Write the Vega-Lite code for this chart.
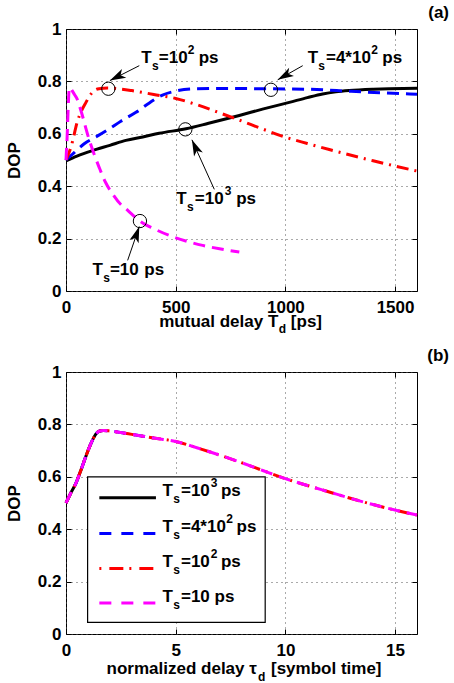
{
"$schema": "https://vega.github.io/schema/vega-lite/v6.json",
"background": "white",
"padding": {"left": 5, "top": 3, "right": 0, "bottom": 0},
"spacing": 10,
"config": {
  "font": "Liberation Sans",
  "view": {"stroke": "black", "strokeWidth": 1},
  "axis": {"domain": false, "tickColor": "black", "tickSize": -5, "tickWidth": 1, "gridColor": "#555", "gridDash": [1, 4], "gridWidth": 1, "labelFont": "Liberation Sans", "labelFontSize": 17, "labelFontWeight": "bold", "labelColor": "black", "labelFlush": false, "titleFont": "Liberation Sans", "titleFontSize": 17, "titleFontWeight": "bold", "titleColor": "black"},
  "axisX": {"labelPadding": 13.5},
  "axisY": {"labelPadding": 10, "titlePadding": 13.4},
  "title": {"font": "Liberation Sans", "fontSize": 17, "fontWeight": "bold", "anchor": "end", "frame": "group", "dx": 32, "offset": -2, "color": "black"},
  "text": {"font": "Liberation Sans", "fontWeight": "bold", "color": "black", "align": "left", "baseline": "alphabetic"}
},
"datasets": {
  "la": [
    {"s":"k","x":0,"y":0.497},{"s":"k","x":50,"y":0.515},{"s":"k","x":121,"y":0.536},{"s":"k","x":200,"y":0.556},{"s":"k","x":273,"y":0.575},{"s":"k","x":350,"y":0.588},{"s":"k","x":425,"y":0.602},{"s":"k","x":547,"y":0.619},{"s":"k","x":650,"y":0.64},{"s":"k","x":790,"y":0.67},{"s":"k","x":900,"y":0.695},{"s":"k","x":1018,"y":0.72},{"s":"k","x":1100,"y":0.738},{"s":"k","x":1170,"y":0.752},{"s":"k","x":1230,"y":0.76},{"s":"k","x":1291,"y":0.765},{"s":"k","x":1400,"y":0.77},{"s":"k","x":1473,"y":0.772},{"s":"k","x":1600,"y":0.774},
    {"s":"b","x":0,"y":0.5},{"s":"b","x":40,"y":0.53},{"s":"b","x":83,"y":0.562},{"s":"b","x":140,"y":0.59},{"s":"b","x":197,"y":0.619},{"s":"b","x":250,"y":0.648},{"s":"b","x":319,"y":0.682},{"s":"b","x":380,"y":0.718},{"s":"b","x":440,"y":0.748},{"s":"b","x":500,"y":0.763},{"s":"b","x":577,"y":0.771},{"s":"b","x":700,"y":0.773},{"s":"b","x":900,"y":0.772},{"s":"b","x":1100,"y":0.77},{"s":"b","x":1300,"y":0.762},{"s":"b","x":1450,"y":0.756},{"s":"b","x":1600,"y":0.751},
    {"s":"r","x":0,"y":0.5},{"s":"r","x":23,"y":0.55},{"s":"r","x":53,"y":0.65},{"s":"r","x":91,"y":0.72},{"s":"r","x":121,"y":0.759},{"s":"r","x":150,"y":0.772},{"s":"r","x":190,"y":0.775},{"s":"r","x":250,"y":0.771},{"s":"r","x":300,"y":0.765},{"s":"r","x":400,"y":0.75},{"s":"r","x":500,"y":0.735},{"s":"r","x":600,"y":0.71},{"s":"r","x":700,"y":0.68},{"s":"r","x":800,"y":0.649},{"s":"r","x":900,"y":0.617},{"s":"r","x":1000,"y":0.587},{"s":"r","x":1100,"y":0.563},{"s":"r","x":1200,"y":0.54},{"s":"r","x":1300,"y":0.518},{"s":"r","x":1400,"y":0.497},{"s":"r","x":1500,"y":0.477},{"s":"r","x":1600,"y":0.458},
    {"s":"m","x":0,"y":0.5},{"s":"m","x":2,"y":0.535},{"s":"m","x":4.6,"y":0.577},{"s":"m","x":7,"y":0.63},{"s":"m","x":9,"y":0.679},{"s":"m","x":11,"y":0.72},{"s":"m","x":12.2,"y":0.742},{"s":"m","x":13.5,"y":0.762},{"s":"m","x":15.2,"y":0.774},{"s":"m","x":17,"y":0.777},{"s":"m","x":20,"y":0.775},{"s":"m","x":25,"y":0.769},{"s":"m","x":30,"y":0.762},{"s":"m","x":40,"y":0.748},{"s":"m","x":50,"y":0.734},{"s":"m","x":60,"y":0.71},{"s":"m","x":70,"y":0.683},{"s":"m","x":80,"y":0.654},{"s":"m","x":90,"y":0.623},{"s":"m","x":100,"y":0.593},{"s":"m","x":125,"y":0.53},{"s":"m","x":152,"y":0.47},{"s":"m","x":180,"y":0.415},{"s":"m","x":212,"y":0.371},{"s":"m","x":250,"y":0.33},{"s":"m","x":273,"y":0.314},{"s":"m","x":300,"y":0.293},{"s":"m","x":337,"y":0.267},{"s":"m","x":400,"y":0.238},{"s":"m","x":471,"y":0.212},{"s":"m","x":550,"y":0.19},{"s":"m","x":623,"y":0.174},{"s":"m","x":700,"y":0.161},{"s":"m","x":790,"y":0.149}
  ],
  "lb": [
    {"s":"k","x":0,"y":0.5},{"s":"k","x":0.2,"y":0.535},{"s":"k","x":0.46,"y":0.577},{"s":"k","x":0.7,"y":0.63},{"s":"k","x":0.91,"y":0.679},{"s":"k","x":1.1,"y":0.72},{"s":"k","x":1.22,"y":0.742},{"s":"k","x":1.35,"y":0.762},{"s":"k","x":1.52,"y":0.774},{"s":"k","x":1.6,"y":0.776},
    {"s":"b","x":0,"y":0.5},{"s":"b","x":0.2,"y":0.535},{"s":"b","x":0.46,"y":0.577},{"s":"b","x":0.7,"y":0.63},{"s":"b","x":0.91,"y":0.679},{"s":"b","x":1.1,"y":0.72},{"s":"b","x":1.22,"y":0.742},{"s":"b","x":1.35,"y":0.762},{"s":"b","x":1.52,"y":0.774},{"s":"b","x":1.7,"y":0.777},{"s":"b","x":2,"y":0.775},{"s":"b","x":2.5,"y":0.769},{"s":"b","x":3,"y":0.762},{"s":"b","x":3.5,"y":0.755},{"s":"b","x":4,"y":0.748},
    {"s":"r","x":0,"y":0.5},{"s":"r","x":0.2,"y":0.535},{"s":"r","x":0.46,"y":0.577},{"s":"r","x":0.7,"y":0.63},{"s":"r","x":0.91,"y":0.679},{"s":"r","x":1.1,"y":0.72},{"s":"r","x":1.22,"y":0.742},{"s":"r","x":1.35,"y":0.762},{"s":"r","x":1.52,"y":0.774},{"s":"r","x":1.7,"y":0.777},{"s":"r","x":2,"y":0.775},{"s":"r","x":2.5,"y":0.769},{"s":"r","x":3,"y":0.762},{"s":"r","x":3.5,"y":0.755},{"s":"r","x":4,"y":0.748},{"s":"r","x":5,"y":0.735},{"s":"r","x":6,"y":0.71},{"s":"r","x":7,"y":0.683},{"s":"r","x":8,"y":0.654},{"s":"r","x":9,"y":0.623},{"s":"r","x":10,"y":0.593},{"s":"r","x":11,"y":0.567},{"s":"r","x":12,"y":0.542},{"s":"r","x":13,"y":0.517},{"s":"r","x":14,"y":0.494},{"s":"r","x":15,"y":0.473},{"s":"r","x":16,"y":0.454},
    {"s":"m","x":0,"y":0.5},{"s":"m","x":0.2,"y":0.535},{"s":"m","x":0.46,"y":0.577},{"s":"m","x":0.7,"y":0.63},{"s":"m","x":0.91,"y":0.679},{"s":"m","x":1.1,"y":0.72},{"s":"m","x":1.22,"y":0.742},{"s":"m","x":1.35,"y":0.762},{"s":"m","x":1.52,"y":0.774},{"s":"m","x":1.7,"y":0.777},{"s":"m","x":2,"y":0.775},{"s":"m","x":2.5,"y":0.769},{"s":"m","x":3,"y":0.762},{"s":"m","x":3.5,"y":0.755},{"s":"m","x":4,"y":0.748},{"s":"m","x":5,"y":0.735},{"s":"m","x":6,"y":0.71},{"s":"m","x":7,"y":0.683},{"s":"m","x":8,"y":0.654},{"s":"m","x":9,"y":0.623},{"s":"m","x":10,"y":0.593},{"s":"m","x":11,"y":0.567},{"s":"m","x":12,"y":0.542},{"s":"m","x":13,"y":0.517},{"s":"m","x":14,"y":0.494},{"s":"m","x":15,"y":0.473},{"s":"m","x":16,"y":0.454}
  ],
  "ca": [{"x":193,"y":0.772},{"x":934,"y":0.768},{"x":544,"y":0.617},{"x":337,"y":0.267}],
  "aa": [{"id":1,"x":334,"y":0.86,"x2":200,"y2":0.803},{"id":2,"x":1079,"y":0.86,"x2":965,"y2":0.806},{"id":3,"x":676,"y":0.388,"x2":574,"y2":0.577},{"id":4,"x":281,"y":0.117,"x2":334,"y2":0.246}],
  "tma": [
    {"t":"T","x":343,"y":0.872},{"t":"=10","x":423,"y":0.872},{"t":"ps","x":605,"y":0.872},
    {"t":"T","x":1102,"y":0.872},{"t":"=4*10","x":1185,"y":0.872},{"t":"ps","x":1442,"y":0.872},
    {"t":"T","x":503,"y":0.332},{"t":"=10","x":587,"y":0.332},{"t":"ps","x":776,"y":0.332},
    {"t":"T","x":121,"y":0.06},{"t":"=10","x":200,"y":0.06},{"t":"ps","x":357,"y":0.06},
    {"t":"mutual delay T","x":425,"y":-0.136},{"t":"[ps]","x":1025,"y":-0.136}
  ],
  "tsa": [
    {"t":"s","x":392,"y":0.845},{"t":"2","x":555,"y":0.906},
    {"t":"s","x":1150,"y":0.845},{"t":"2","x":1391,"y":0.906},
    {"t":"s","x":551,"y":0.305},{"t":"3","x":724,"y":0.366},
    {"t":"s","x":170,"y":0.033},
    {"t":"d","x":970,"y":-0.162}
  ],
  "tmb": [
    {"t":"T","x":4.4,"y":0.526},{"t":"=10","x":5.24,"y":0.526},{"t":"ps","x":7.065,"y":0.526},
    {"t":"T","x":4.4,"y":0.391},{"t":"=4*10","x":5.24,"y":0.391},{"t":"ps","x":7.776,"y":0.391},
    {"t":"T","x":4.4,"y":0.256},{"t":"=10","x":5.24,"y":0.256},{"t":"ps","x":7.065,"y":0.256},
    {"t":"T","x":4.4,"y":0.121},{"t":"=10","x":5.24,"y":0.121},{"t":"ps","x":6.77,"y":0.121},
    {"t":"normalized delay τ","x":1.85,"y":-0.152},{"t":"[symbol time]","x":9.344,"y":-0.152}
  ],
  "tsb": [
    {"t":"s","x":4.89,"y":0.499},{"t":"3","x":6.6,"y":0.56},
    {"t":"s","x":4.89,"y":0.364},{"t":"2","x":7.3,"y":0.425},
    {"t":"s","x":4.89,"y":0.23},{"t":"2","x":6.6,"y":0.29},
    {"t":"s","x":4.89,"y":0.094},
    {"t":"d","x":8.756,"y":-0.179}
  ],
  "leg": [{"x":0.985,"x2":9.08,"y":0.0445,"y2":0.6}],
  "legl": [{"s":"k","x":1.52,"x2":4.1,"y":0.52},{"s":"b","x":1.52,"x2":4.1,"y":0.384},{"s":"r","x":1.52,"x2":4.1,"y":0.25},{"s":"m","x":1.52,"x2":4.1,"y":0.118}]
},
"vconcat": [
 {
  "width": 351, "height": 262,
  "title": "(a)",
  "resolve": {"axis": {"x": "independent", "y": "independent"}},
  "layer": [
   {"layer": [
    {"data": {"name": "la"}, "transform": [{"filter": "datum.s == 'k'"}],
     "mark": {"type": "line", "color": "black", "strokeWidth": 3, "interpolate": "monotone"},
     "encoding": {
      "x": {"field": "x", "type": "quantitative", "scale": {"domain": [0, 1600]}, "axis": {"values": [0, 500, 1000, 1500], "format": "d", "title": null}},
      "y": {"field": "y", "type": "quantitative", "scale": {"domain": [0, 1]}, "axis": {"values": [0, 0.2, 0.4, 0.6, 0.8, 1], "format": "~g", "title": "DOP"}}}},
    {"data": {"name": "la"}, "transform": [{"filter": "datum.s == 'b'"}],
     "mark": {"type": "line", "color": "#0000ff", "strokeWidth": 3, "strokeDash": [12, 7], "interpolate": "monotone"},
     "encoding": {"x": {"field": "x", "type": "quantitative", "scale": {"domain": [0, 1600]}}, "y": {"field": "y", "type": "quantitative", "scale": {"domain": [0, 1]}}}},
    {"data": {"name": "la"}, "transform": [{"filter": "datum.s == 'r'"}],
     "mark": {"type": "line", "color": "#ff0000", "strokeWidth": 3, "strokeDash": [12, 6, 2, 6], "interpolate": "monotone"},
     "encoding": {"x": {"field": "x", "type": "quantitative", "scale": {"domain": [0, 1600]}}, "y": {"field": "y", "type": "quantitative", "scale": {"domain": [0, 1]}}}},
    {"data": {"name": "la"}, "transform": [{"filter": "datum.s == 'm'"}],
     "mark": {"type": "line", "color": "#ff00ff", "strokeWidth": 3, "strokeDash": [12, 7], "interpolate": "monotone"},
     "encoding": {"x": {"field": "x", "type": "quantitative", "scale": {"domain": [0, 1600]}}, "y": {"field": "y", "type": "quantitative", "scale": {"domain": [0, 1]}}}},
    {"data": {"name": "ca"},
     "mark": {"type": "point", "shape": "circle", "size": 177, "filled": false, "color": "black", "strokeWidth": 1, "opacity": 1},
     "encoding": {"x": {"field": "x", "type": "quantitative", "scale": {"domain": [0, 1600]}}, "y": {"field": "y", "type": "quantitative", "scale": {"domain": [0, 1]}}}},
    {"data": {"name": "aa"},
     "mark": {"type": "rule", "color": "black", "strokeWidth": 1},
     "encoding": {"x": {"field": "x", "type": "quantitative", "scale": {"domain": [0, 1600]}}, "y": {"field": "y", "type": "quantitative", "scale": {"domain": [0, 1]}}, "x2": {"field": "x2"}, "y2": {"field": "y2"}}},
    {"data": {"name": "aa"}, "transform": [{"filter": "datum.id == 1"}],
     "mark": {"type": "point", "shape": "M0,0L0.6,2L0,1.5L-0.6,2Z", "size": 256, "filled": true, "color": "black", "opacity": 1, "angle": 243},
     "encoding": {"x": {"field": "x2", "type": "quantitative", "scale": {"domain": [0, 1600]}}, "y": {"field": "y2", "type": "quantitative", "scale": {"domain": [0, 1]}}}},
    {"data": {"name": "aa"}, "transform": [{"filter": "datum.id == 2"}],
     "mark": {"type": "point", "shape": "M0,0L0.6,2L0,1.5L-0.6,2Z", "size": 256, "filled": true, "color": "black", "opacity": 1, "angle": 240},
     "encoding": {"x": {"field": "x2", "type": "quantitative", "scale": {"domain": [0, 1600]}}, "y": {"field": "y2", "type": "quantitative", "scale": {"domain": [0, 1]}}}},
    {"data": {"name": "aa"}, "transform": [{"filter": "datum.id == 3"}],
     "mark": {"type": "point", "shape": "M0,0L0.6,2L0,1.5L-0.6,2Z", "size": 256, "filled": true, "color": "black", "opacity": 1, "angle": 336},
     "encoding": {"x": {"field": "x2", "type": "quantitative", "scale": {"domain": [0, 1600]}}, "y": {"field": "y2", "type": "quantitative", "scale": {"domain": [0, 1]}}}},
    {"data": {"name": "aa"}, "transform": [{"filter": "datum.id == 4"}],
     "mark": {"type": "point", "shape": "M0,0L0.6,2L0,1.5L-0.6,2Z", "size": 256, "filled": true, "color": "black", "opacity": 1, "angle": 19},
     "encoding": {"x": {"field": "x2", "type": "quantitative", "scale": {"domain": [0, 1600]}}, "y": {"field": "y2", "type": "quantitative", "scale": {"domain": [0, 1]}}}},
    {"data": {"name": "tma"},
     "mark": {"type": "text", "fontSize": 17},
     "encoding": {"x": {"field": "x", "type": "quantitative", "scale": {"domain": [0, 1600]}}, "y": {"field": "y", "type": "quantitative", "scale": {"domain": [0, 1]}}, "text": {"field": "t"}}},
    {"data": {"name": "tsa"},
     "mark": {"type": "text", "fontSize": 12},
     "encoding": {"x": {"field": "x", "type": "quantitative", "scale": {"domain": [0, 1600]}}, "y": {"field": "y", "type": "quantitative", "scale": {"domain": [0, 1]}}, "text": {"field": "t"}}}
   ]},
   {"data": {"name": "la"},
    "mark": {"type": "point", "opacity": 0},
    "encoding": {
     "x": {"field": "x", "type": "quantitative", "scale": {"domain": [0, 1600]}, "axis": {"orient": "top", "values": [0, 500, 1000, 1500], "labels": false, "grid": false, "title": null}},
     "y": {"field": "y", "type": "quantitative", "scale": {"domain": [0, 1]}, "axis": {"orient": "right", "values": [0, 0.2, 0.4, 0.6, 0.8, 1], "labels": false, "grid": false, "title": null}}}}
  ]
 },
 {
  "width": 351, "height": 262,
  "title": "(b)",
  "resolve": {"axis": {"x": "independent", "y": "independent"}},
  "layer": [
   {"layer": [
    {"data": {"name": "lb"}, "transform": [{"filter": "datum.s == 'k'"}],
     "mark": {"type": "line", "color": "black", "strokeWidth": 3, "interpolate": "monotone"},
     "encoding": {
      "x": {"field": "x", "type": "quantitative", "scale": {"domain": [0, 16]}, "axis": {"values": [0, 5, 10, 15], "format": "d", "title": null}},
      "y": {"field": "y", "type": "quantitative", "scale": {"domain": [0, 1]}, "axis": {"values": [0, 0.2, 0.4, 0.6, 0.8, 1], "format": "~g", "title": "DOP"}}}},
    {"data": {"name": "lb"}, "transform": [{"filter": "datum.s == 'b'"}],
     "mark": {"type": "line", "color": "#0000ff", "strokeWidth": 3, "strokeDash": [12, 7], "interpolate": "monotone"},
     "encoding": {"x": {"field": "x", "type": "quantitative", "scale": {"domain": [0, 16]}}, "y": {"field": "y", "type": "quantitative", "scale": {"domain": [0, 1]}}}},
    {"data": {"name": "lb"}, "transform": [{"filter": "datum.s == 'r'"}],
     "mark": {"type": "line", "color": "#ff0000", "strokeWidth": 3, "strokeDash": [12, 6, 2, 6], "interpolate": "monotone"},
     "encoding": {"x": {"field": "x", "type": "quantitative", "scale": {"domain": [0, 16]}}, "y": {"field": "y", "type": "quantitative", "scale": {"domain": [0, 1]}}}},
    {"data": {"name": "lb"}, "transform": [{"filter": "datum.s == 'm'"}],
     "mark": {"type": "line", "color": "#ff00ff", "strokeWidth": 3, "strokeDash": [12, 7], "interpolate": "monotone"},
     "encoding": {"x": {"field": "x", "type": "quantitative", "scale": {"domain": [0, 16]}}, "y": {"field": "y", "type": "quantitative", "scale": {"domain": [0, 1]}}}},
    {"data": {"name": "leg"},
     "mark": {"type": "rect", "fill": "white", "stroke": "black", "strokeWidth": 1.2},
     "encoding": {"x": {"field": "x", "type": "quantitative", "scale": {"domain": [0, 16]}}, "x2": {"field": "x2"}, "y": {"field": "y", "type": "quantitative", "scale": {"domain": [0, 1]}}, "y2": {"field": "y2"}}},
    {"data": {"name": "legl"}, "transform": [{"filter": "datum.s == 'k'"}],
     "mark": {"type": "rule", "color": "black", "strokeWidth": 3},
     "encoding": {"x": {"field": "x", "type": "quantitative", "scale": {"domain": [0, 16]}}, "x2": {"field": "x2"}, "y": {"field": "y", "type": "quantitative", "scale": {"domain": [0, 1]}}}},
    {"data": {"name": "legl"}, "transform": [{"filter": "datum.s == 'b'"}],
     "mark": {"type": "rule", "color": "#0000ff", "strokeWidth": 3, "strokeDash": [12, 10]},
     "encoding": {"x": {"field": "x", "type": "quantitative", "scale": {"domain": [0, 16]}}, "x2": {"field": "x2"}, "y": {"field": "y", "type": "quantitative", "scale": {"domain": [0, 1]}}}},
    {"data": {"name": "legl"}, "transform": [{"filter": "datum.s == 'r'"}],
     "mark": {"type": "rule", "color": "#ff0000", "strokeWidth": 3, "strokeDash": [2, 8, 14, 6]},
     "encoding": {"x": {"field": "x", "type": "quantitative", "scale": {"domain": [0, 16]}}, "x2": {"field": "x2"}, "y": {"field": "y", "type": "quantitative", "scale": {"domain": [0, 1]}}}},
    {"data": {"name": "legl"}, "transform": [{"filter": "datum.s == 'm'"}],
     "mark": {"type": "rule", "color": "#ff00ff", "strokeWidth": 3, "strokeDash": [12, 10]},
     "encoding": {"x": {"field": "x", "type": "quantitative", "scale": {"domain": [0, 16]}}, "x2": {"field": "x2"}, "y": {"field": "y", "type": "quantitative", "scale": {"domain": [0, 1]}}}},
    {"data": {"name": "tmb"},
     "mark": {"type": "text", "fontSize": 17},
     "encoding": {"x": {"field": "x", "type": "quantitative", "scale": {"domain": [0, 16]}}, "y": {"field": "y", "type": "quantitative", "scale": {"domain": [0, 1]}}, "text": {"field": "t"}}},
    {"data": {"name": "tsb"},
     "mark": {"type": "text", "fontSize": 12},
     "encoding": {"x": {"field": "x", "type": "quantitative", "scale": {"domain": [0, 16]}}, "y": {"field": "y", "type": "quantitative", "scale": {"domain": [0, 1]}}, "text": {"field": "t"}}}
   ]},
   {"data": {"name": "lb"},
    "mark": {"type": "point", "opacity": 0},
    "encoding": {
     "x": {"field": "x", "type": "quantitative", "scale": {"domain": [0, 16]}, "axis": {"orient": "top", "values": [0, 5, 10, 15], "labels": false, "grid": false, "title": null}},
     "y": {"field": "y", "type": "quantitative", "scale": {"domain": [0, 1]}, "axis": {"orient": "right", "values": [0, 0.2, 0.4, 0.6, 0.8, 1], "labels": false, "grid": false, "title": null}}}}
  ]
 }
]
}
